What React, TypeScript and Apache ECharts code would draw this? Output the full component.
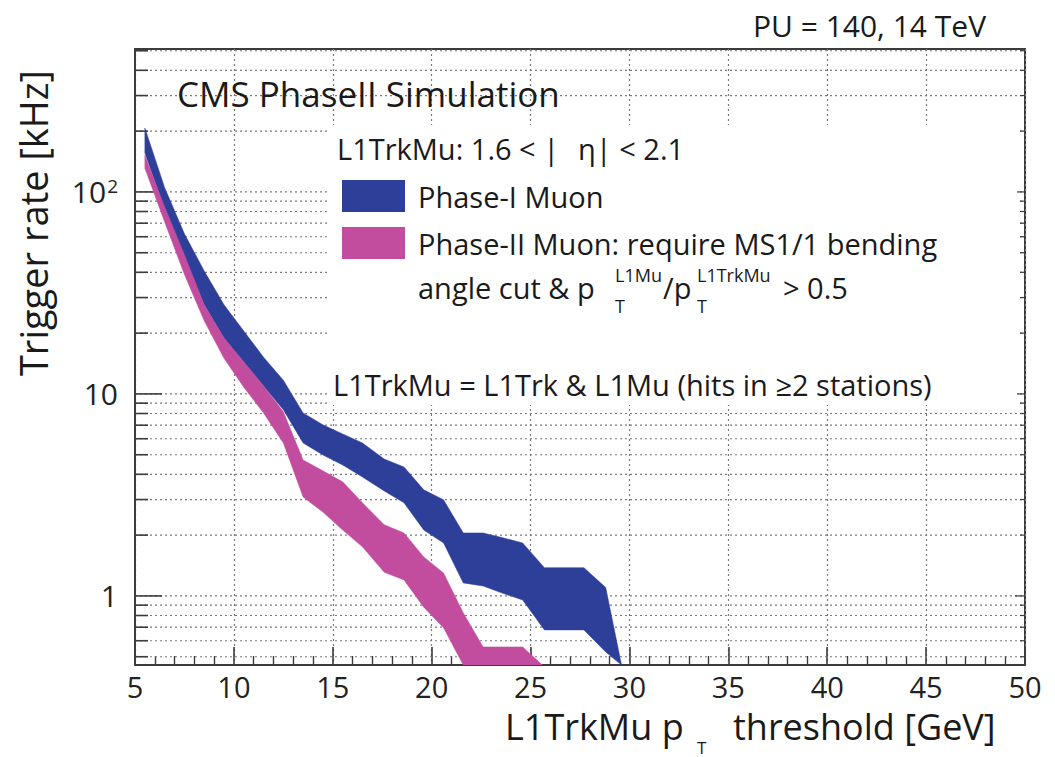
import React, { useEffect, useRef } from "react";
import * as echarts from "echarts";

const FONT = "'Open Sans', 'DejaVu Sans', sans-serif";
const TEXT = "#1a1a1a";
const FRAME = "#3c3c3c";
const GRID = "#7a7a7a";

const X_MIN = 5;
const X_MAX = 50;
const X_STEP = 5;
const Y_MIN = 0.455;
const Y_MAX = 510;
const Y_MAJOR = [1, 10, 100];
const Y_MINOR = [0.5, 0.6, 0.7, 0.8, 0.9, 2, 3, 4, 5, 6, 7, 8, 9, 20, 30, 40, 50, 60, 70, 80, 90, 200, 300, 400, 500];

const SERIES_NAMES = ["Phase-I Muon", "Phase-II Muon: require MS1/1 bending"];
const COLORS = ["#2e3f99", "#c24c9e"];

// Phase-I Muon band
const BLUE_X = [5.5, 6.5, 7.5, 8.5, 9.5, 10.5, 11.5, 12.5, 13.5, 14.5, 15.5, 16.5, 17.6, 18.6, 19.6, 20.6, 21.6, 22.6, 23.6, 24.6, 25.7, 26.7, 27.7, 28.8, 29.6];
const BLUE_HI = [207, 105, 62, 40.6, 27.6, 20.5, 15.2, 11.7, 8.05, 7.03, 6.34, 5.72, 4.76, 4.35, 3.35, 2.99, 2.05, 2.05, 1.94, 1.83, 1.38, 1.38, 1.38, 1.1, 0.455];
const BLUE_LO = [156, 81.5, 47.7, 27.6, 18.9, 14.4, 10.96, 8.34, 5.72, 4.99, 4.45, 3.88, 3.31, 2.89, 2.12, 1.83, 1.16, 1.12, 1.03, 0.955, 0.679, 0.679, 0.679, 0.528, 0.455];

// Phase-II Muon band
const PINK_X = [5.5, 6.5, 7.5, 8.5, 9.5, 10.5, 11.5, 12.5, 13.5, 14.5, 15.5, 16.5, 17.6, 18.6, 19.6, 20.6, 21.6, 22.6, 23.6, 24.6, 25.6];
const PINK_HI = [152, 84.3, 48.8, 27.6, 18.9, 14.4, 10.96, 8.15, 4.71, 4.16, 3.67, 2.89, 2.25, 2.05, 1.56, 1.3, 0.824, 0.559, 0.559, 0.559, 0.455];
const PINK_LO = [131, 71, 39, 23, 15, 10.8, 8.05, 5.72, 3.09, 2.6, 2.12, 1.75, 1.31, 1.2, 0.88, 0.695, 0.455, 0.455, 0.455, 0.455, 0.455];

function bandSeries(name: string, xs: number[], lo: number[], hi: number[], color: string) {
  return {
    type: "custom",
    name,
    z: 2,
    clip: true,
    itemStyle: { color },
    data: xs.map((x, i) => [x, lo[i], hi[i]]),
    encode: { x: 0, y: [1, 2] },
    renderItem: (params: any, api: any) => {
      if (params.dataIndex !== 0) return null;
      const pts: number[][] = [];
      for (let i = 0; i < xs.length; i++) pts.push(api.coord([xs[i], hi[i]]));
      for (let i = xs.length - 1; i >= 0; i--) pts.push(api.coord([xs[i], lo[i]]));
      return { type: "polygon", shape: { points: pts }, style: { fill: color, stroke: color, lineWidth: 0.5 } };
    },
  };
}

const Y_TICKS = [...Y_MINOR, ...Y_MAJOR];

function gridSeries() {
  return {
    type: "custom",
    name: "ygrid",
    z: 1,
    silent: true,
    data: Y_TICKS.map((v) => [X_MIN, v]),
    renderItem: (params: any, api: any) => {
      const v = Y_TICKS[params.dataIndex];
      const p = api.coord([X_MIN, v]);
      const cs = params.coordSys;
      const left = cs.x;
      const right = cs.x + cs.width;
      const major = Y_MAJOR.indexOf(v) >= 0;
      return {
        type: "group",
        children: [
          { type: "line", shape: { x1: left, y1: p[1], x2: right, y2: p[1] }, style: { stroke: GRID, lineWidth: 1.2, lineDash: [2, 3] } },
          { type: "line", shape: { x1: left, y1: p[1], x2: left + (major ? 27 : 13), y2: p[1] }, style: { stroke: FRAME, lineWidth: 1.6 } },
          { type: "line", shape: { x1: right - (major ? 10 : 5), y1: p[1], x2: right, y2: p[1] }, style: { stroke: FRAME, lineWidth: 1.2 } },
        ],
      };
    },
  };
}

function txt(text: string, x: number, y: number, size: number, extra: any = {}) {
  return {
    type: "text",
    x,
    y,
    z: 10,
    style: { text, fontSize: size, fontFamily: FONT, fill: TEXT, align: "left", verticalAlign: "middle", ...extra },
  };
}

export default function App() {
  const ref = useRef<HTMLDivElement>(null);
  useEffect(() => {
    if (!ref.current) return;
    const chart = echarts.init(ref.current, undefined, { renderer: "svg" });
    const option: any = {
      animation: false,
      backgroundColor: "#ffffff",
      grid: { left: 135, right: 30, top: 49, bottom: 92, show: true, borderColor: FRAME, borderWidth: 2, backgroundColor: "transparent" },
      xAxis: {
        type: "value",
        min: X_MIN,
        max: X_MAX,
        interval: X_STEP,
        axisLine: { show: true, lineStyle: { color: FRAME, width: 2 } },
        axisTick: { show: true, inside: true, length: 18, lineStyle: { color: FRAME, width: 1.6 } },
        minorTick: { show: true, splitNumber: 5, length: 9, lineStyle: { color: FRAME, width: 1.4 } },
        splitLine: { show: true, lineStyle: { color: GRID, width: 1.2, type: [2, 3] } },
        axisLabel: { fontSize: 29, lineHeight: 24, fontFamily: FONT, color: "#222", margin: 9 },
      },
      yAxis: {
        type: "log",
        logBase: 10,
        min: Y_MIN,
        max: Y_MAX,
        axisLine: { show: true, lineStyle: { color: FRAME, width: 2 } },
        axisTick: { show: false },
        splitLine: { show: false },
        minorTick: { show: false },
        axisLabel: {
          fontSize: 30,
          fontFamily: FONT,
          color: "#222",
          margin: 17,
          showMinLabel: false,
          showMaxLabel: false,
          formatter: (v: number) => {
            const l = Math.log10(v);
            const r = Math.round(l);
            if (Math.abs(l - r) > 1e-6) return "";
            if (r === 0) return "1";
            if (r === 1) return "10";
            return "10{sup|" + r + "}";
          },
          rich: { sup: { fontSize: 19, fontFamily: FONT, color: "#222", verticalAlign: "top", padding: [0, 0, 8, 1] } },
        },
      },
      legend: {
        data: SERIES_NAMES,
        orient: "vertical",
        left: 342,
        top: 180,
        padding: 0,
        itemWidth: 63,
        itemHeight: 32,
        itemGap: 15,
        icon: "rect",
        selectedMode: false,
        z: 11,
        textStyle: { fontFamily: FONT, fontSize: 29, color: TEXT, padding: [0, 0, 0, 8] },
      },
      series: [
        gridSeries(),
        bandSeries(SERIES_NAMES[0], BLUE_X, BLUE_LO, BLUE_HI, COLORS[0]),
        bandSeries(SERIES_NAMES[1], PINK_X, PINK_LO, PINK_HI, COLORS[1]),
      ],
      graphic: {
        elements: [
          { type: "rect", z: 3, shape: { x: 327, y: 125, width: 690, height: 280 }, style: { fill: "#ffffff" } },
          txt("PU = 140, 14 TeV", 753, 25, 30),
          txt("CMS PhaseII Simulation", 177, 93, 35),
          txt("L1TrkMu: 1.6 < |", 337, 148, 29),
          txt("η| < 2.1", 578, 148, 29),
          txt("angle cut & p", 418, 287, 29),
          txt("L1Mu", 615, 275, 18),
          txt("T", 615, 306, 18),
          txt("/p", 663, 287, 29),
          txt("L1TrkMu", 697, 275, 18),
          txt("T", 697, 306, 18),
          txt("> 0.5", 783, 287, 29),
          txt("L1TrkMu = L1Trk & L1Mu (hits in ≥2 stations)", 333, 384, 29),
          txt("L1TrkMu p", 505, 726, 36, { lineHeight: 30 }),
          txt("T", 697, 747, 17),
          txt("threshold [GeV]", 733, 726, 36, { lineHeight: 30 }),
          { ...txt("Trigger rate [kHz]", 33, 223, 38, { align: "center" }), rotation: Math.PI / 2 },
        ],
      },
    };
    chart.setOption(option);
    return () => chart.dispose();
  }, []);
  return <div ref={ref} style={{ position: "fixed", left: 0, top: 0, width: 1055, height: 757, background: "#fff" }} />;
}
